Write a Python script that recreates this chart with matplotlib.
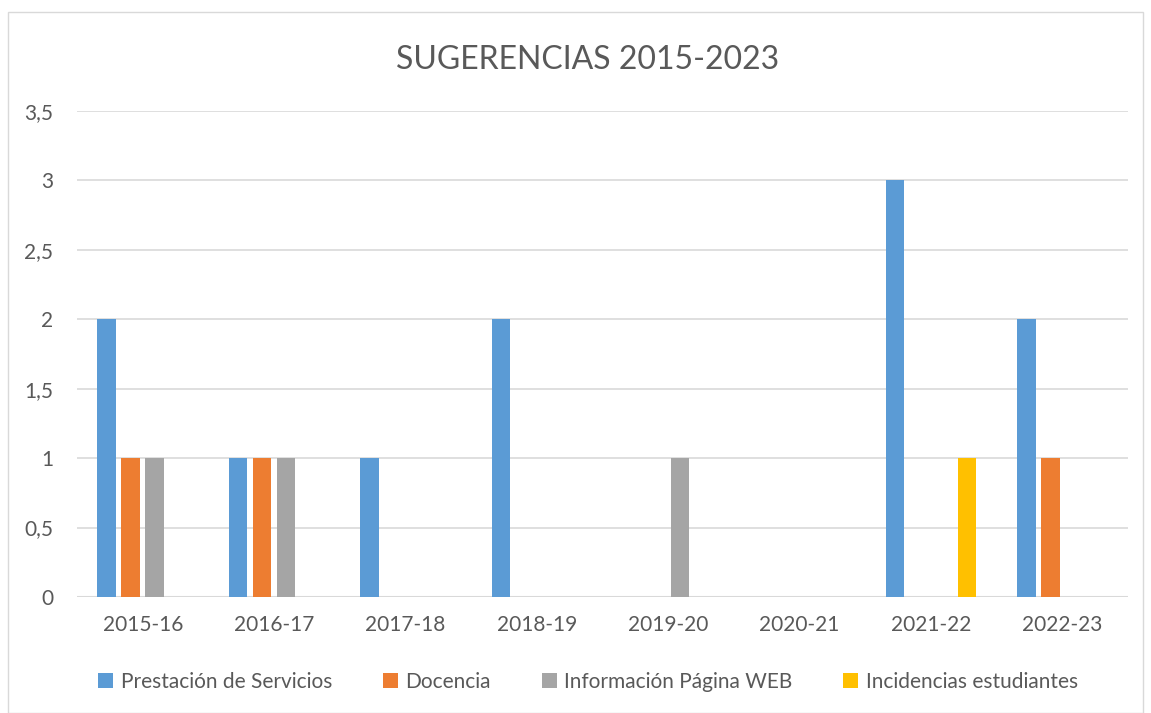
import numpy as np
import matplotlib
matplotlib.use("Agg")
import matplotlib.pyplot as plt
from matplotlib.patches import Patch, Rectangle

plt.rcParams["font.family"] = ["Lato", "DejaVu Sans"]

years = ["2015-16", "2016-17", "2017-18", "2018-19", "2019-20", "2020-21", "2021-22", "2022-23"]
series = ["Prestación de Servicios", "Docencia", "Información Página WEB", "Incidencias estudiantes"]
prestacion = [2, 1, 1, 2, 0, 0, 3, 2]
docencia = [1, 1, 0, 0, 0, 0, 0, 1]
info_web = [1, 1, 0, 0, 1, 0, 0, 0]
incidencias = [0, 0, 0, 0, 0, 0, 1, 0]
colors = ["#5B9BD5", "#ED7D31", "#A5A5A5", "#FFC000"]
yticks = [0, 0.5, 1, 1.5, 2, 2.5, 3, 3.5]

W, H = 1151, 713
fig = plt.figure(figsize=(W / 100, H / 100), dpi=100)
fig.patches.append(Rectangle((8 / W, 0), (W - 16) / W, 1 - 12 / H, transform=fig.transFigure,
                             fill=False, edgecolor="#D9D9D9", linewidth=1))

ax = fig.add_axes([77 / W, 1 - 597 / H, (1128 - 77) / W, (597 - 111) / H])

x = np.arange(len(years))
pitch = 24 / 131.4
width = 18.5 / 131.4
for i, vals in enumerate([prestacion, docencia, info_web, incidencias]):
    ax.bar(x + (i - 1.5) * pitch, vals, width, color=colors[i], zorder=3)

ax.set_xlim(-0.5, len(years) - 0.5)
ax.set_ylim(0, 3.5)
ax.set_yticks(yticks)
ax.set_yticklabels([f"{v:g}".replace(".", ",") for v in yticks])
ax.set_xticks(x)
ax.set_xticklabels(years)
ax.grid(axis="y", color="#D9D9D9", linewidth=1.2, zorder=0)
for s in ax.spines.values():
    s.set_visible(False)
ax.axhline(0, color="#D9D9D9", linewidth=1.5, zorder=2)
ax.tick_params(axis="both", length=0, labelsize=15, colors="#595959")
ax.tick_params(axis="x", pad=13)
ax.tick_params(axis="y", pad=17)

fig.text(588 / W, 1 - 60 / H, "SUGERENCIAS 2015-2023", ha="center", va="center",
         fontsize=23, color="#595959")

handles = [Patch(facecolor=c, edgecolor="none") for c in colors]
fig.legend(handles, series, loc="center", bbox_to_anchor=(588 / W, 1 - 682 / H), ncol=4,
           frameon=False, fontsize=15, labelcolor="#595959", handlelength=0.72,
           handleheight=0.72, handletextpad=0.35, columnspacing=2.45)

fig.savefig("out.png", dpi=100, facecolor="white")
